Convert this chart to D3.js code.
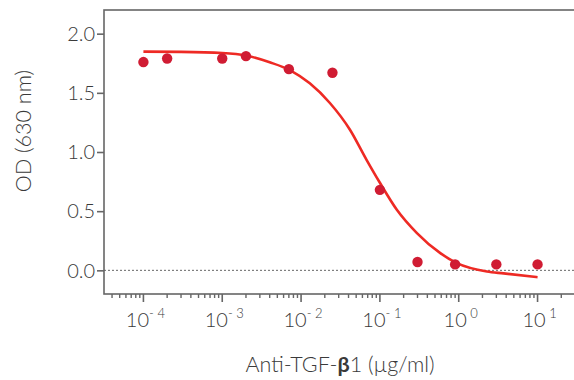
<!DOCTYPE html>
<html>
<head>
<meta charset="utf-8">
<script src="https://cdn.jsdelivr.net/npm/d3@7"></script>
<style>
  body { margin: 0; background: #fff; }
  svg text { font-family: Lato, "Open Sans", sans-serif; font-weight: 300; fill: #3a3a3a; }
</style>
</head>
<body>
<div id="chart"></div>
<script>
// measured points
const conc = [1e-4, 2e-4, 1e-3, 2e-3, 7e-3, 0.025, 0.1, 0.3, 0.9, 3, 10];
const od = [1.76, 1.79, 1.79, 1.81, 1.70, 1.67, 0.68, 0.07, 0.05, 0.05, 0.05];

// fitted curve
const fitConc = [1e-4, 3e-4, 1e-3, 2e-3, 4e-3, 7.3e-3, 0.0129, 0.0232, 0.0417, 0.0677, 0.1, 0.164, 0.295, 0.584, 0.948, 2.28, 3.71, 10];
const fitOd = [1.848, 1.846, 1.836, 1.815, 1.758, 1.690, 1.580, 1.414, 1.188, 0.934, 0.74, 0.512, 0.315, 0.145, 0.061, -0.010, -0.026, -0.058];

const yTicks = [0, 0.5, 1.0, 1.5, 2.0];
const xTicks = [1e-4, 1e-3, 1e-2, 1e-1, 1, 10];

const W = 574, H = 380;
const margin = {left: 104, right: 575, top: 10, bottom: 294};

const svg = d3.select('#chart').append('svg')
  .attr('width', W)
  .attr('height', H);

const x = d3.scaleLog().domain([Math.pow(10, -4.5), Math.pow(10, 1.475)]).range([margin.left, margin.right]);
const y = d3.scaleLinear().domain([-0.2, 2.2]).range([margin.bottom, margin.top]);

const axisColor = '#666';

// zero line
svg.append('line')
  .attr('x1', margin.left).attr('x2', margin.right)
  .attr('y1', y(0)).attr('y2', y(0))
  .style('stroke', '#666')
  .style('stroke-width', 1)
  .style('stroke-dasharray', '2,2');

// frame
svg.append('rect')
  .attr('x', margin.left).attr('y', margin.top)
  .attr('width', margin.right - margin.left).attr('height', margin.bottom - margin.top)
  .style('fill', 'none')
  .style('stroke', axisColor)
  .style('stroke-width', 1.6);

// y axis
const yAxis = svg.append('g')
  .attr('transform', 'translate(' + margin.left + ',0)')
  .call(d3.axisLeft(y).tickValues(yTicks).tickFormat(d3.format('.1f')).tickSize(7).tickPadding(2));
yAxis.select('.domain').remove();
yAxis.selectAll('line').style('stroke', axisColor).style('stroke-width', 1.6);
yAxis.selectAll('text').style('font-size', '20px').style('fill', '#3a3a3a')
  .style('font-family', 'Lato, sans-serif').attr('dy', '0.34em');

// x axis minor ticks
const minor = [];
for (let e = -5; e <= 1; e++) {
  for (let m = 2; m <= 9; m++) {
    const v = m * Math.pow(10, e);
    if (v > x.domain()[0] && v < x.domain()[1]) minor.push(v);
  }
}
const xg = svg.append('g').attr('transform', 'translate(0,' + margin.bottom + ')');
xg.selectAll('line.minor').data(minor).enter().append('line')
  .attr('class', 'minor')
  .attr('x1', d => x(d)).attr('x2', d => x(d))
  .attr('y1', 0).attr('y2', 4)
  .style('stroke', axisColor).style('stroke-width', 1.4);
xg.selectAll('line.major').data(xTicks).enter().append('line')
  .attr('class', 'major')
  .attr('x1', d => x(d)).attr('x2', d => x(d))
  .attr('y1', 0).attr('y2', 8)
  .style('stroke', axisColor).style('stroke-width', 1.6);

const xl = xg.selectAll('text.tick').data(xTicks).enter().append('text')
  .attr('class', 'tick')
  .attr('x', d => x(d) + 2)
  .attr('y', 33)
  .attr('text-anchor', 'middle')
  .style('font-size', '20px');
xl.append('tspan').text('10');
xl.append('tspan')
  .attr('dy', -9)
  .style('font-size', '13px')
  .text(d => {
    const e = Math.round(Math.log10(d));
    return e < 0 ? '- ' + (-e) : ' ' + e;
  });

// axis titles
const xt = svg.append('text')
  .attr('x', 340)
  .attr('y', 372)
  .attr('text-anchor', 'middle')
  .style('font-size', '21.5px');
xt.append('tspan').text('Anti-TGF-');
xt.append('tspan').style('font-weight', 700).text('β');
xt.append('tspan').text('1 (µg/ml)');

svg.append('text')
  .attr('transform', 'translate(31,131) rotate(-90)')
  .attr('text-anchor', 'middle')
  .style('font-size', '21.5px')
  .text('OD (630 nm)');

// fit curve
const fit = fitConc.map((c, i) => [c, fitOd[i]]);
const line = d3.line()
  .x(d => x(d[0]))
  .y(d => y(d[1]))
  .curve(d3.curveMonotoneX);
svg.append('path')
  .datum(fit)
  .attr('d', line)
  .style('fill', 'none')
  .style('stroke', '#ee2a24')
  .style('stroke-width', 2.6);

// points
svg.selectAll('circle.pt').data(conc).enter().append('circle')
  .attr('class', 'pt')
  .attr('cx', d => x(d))
  .attr('cy', (d, i) => y(od[i]))
  .attr('r', 5.2)
  .style('fill', '#d01c33');
</script>
</body>
</html>
